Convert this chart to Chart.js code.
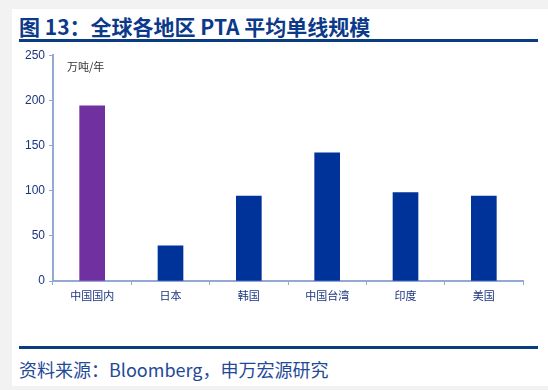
<!DOCTYPE html>
<html>
<head>
<meta charset="utf-8">
<script src="https://cdn.jsdelivr.net/npm/chart.js@4/dist/chart.umd.min.js"></script>
<style>
  html, body { margin: 0; padding: 0; }
  body { width: 548px; height: 390px; background: #f2f2f2; position: relative; overflow: hidden;
         font-family: "Noto Sans CJK SC", "Liberation Sans", sans-serif; }
  #panel { position: absolute; left: 12px; top: 9px; width: 536px; height: 377px; background: #fff; }
  #title { position: absolute; left: 19px; top: 12px; font-size: 21px; font-weight: bold; color: #0c3a8a;
           line-height: 28px; white-space: nowrap; }
  .rule { position: absolute; left: 19px; width: 519px; height: 3px; background: #0b3c80; }
  #unit { position: absolute; left: 67px; top: 58px; font-size: 11px; color: #333; line-height: 16px; }
  #source { position: absolute; left: 19px; top: 356px; font-size: 18px; color: #1f4a99; line-height: 26px;
            white-space: nowrap; }
  #wrap { position: absolute; left: 0; top: 44px; width: 548px; height: 296px; }
</style>
</head>
<body>
<div id="panel"></div>
<div id="title">图 13：全球各地区 PTA 平均单线规模</div>
<div class="rule" style="top:39px"></div>
<div id="wrap"><canvas id="chart"></canvas></div>
<div id="unit">万吨/年</div>
<div class="rule" style="top:346px"></div>
<div id="source">资料来源：Bloomberg，申万宏源研究</div>
<script>
// 各地区 PTA 平均单线规模（万吨/年）
const regions = ['中国国内', '日本', '韩国', '中国台湾', '印度', '美国'];
const lineScale = [194, 39, 94, 142, 98, 94];
const barColors = ['#7030a0', '#003399', '#003399', '#003399', '#003399', '#003399'];
const yMax = 250;
const yStep = 50;

const axisColor = '#94a8d6';
const tickColor = '#1b347e';

new Chart(document.getElementById('chart').getContext('2d'), {
    type: 'bar',
    data: {
        labels: regions,
        datasets: [{
            data: lineScale,
            backgroundColor: barColors,
            barThickness: 25
        }]
    },
    options: {
        responsive: true,
        maintainAspectRatio: false,
        animation: false,
        layout: { padding: { top: 11, right: 25, bottom: 29, left: 0 } },
        plugins: { legend: { display: false }, tooltip: { enabled: false } },
        scales: {
            x: {
                grid: { drawOnChartArea: false, color: axisColor, tickLength: 4, offset: true },
                border: { color: axisColor, width: 2 },
                ticks: { color: tickColor, font: { size: 11, family: '"Noto Sans CJK SC"' }, padding: 4, maxRotation: 0 },
                afterFit: scale => { scale.height = 30; }
            },
            y: {
                min: 0,
                max: yMax,
                grid: { drawOnChartArea: false, color: axisColor, tickLength: 4 },
                border: { color: axisColor, width: 2 },
                ticks: { stepSize: yStep, color: tickColor, font: { size: 12, family: '"Liberation Sans"' }, padding: 4 },
                afterFit: scale => { scale.width = 53; }
            }
        }
    }
});
</script>
</body>
</html>
